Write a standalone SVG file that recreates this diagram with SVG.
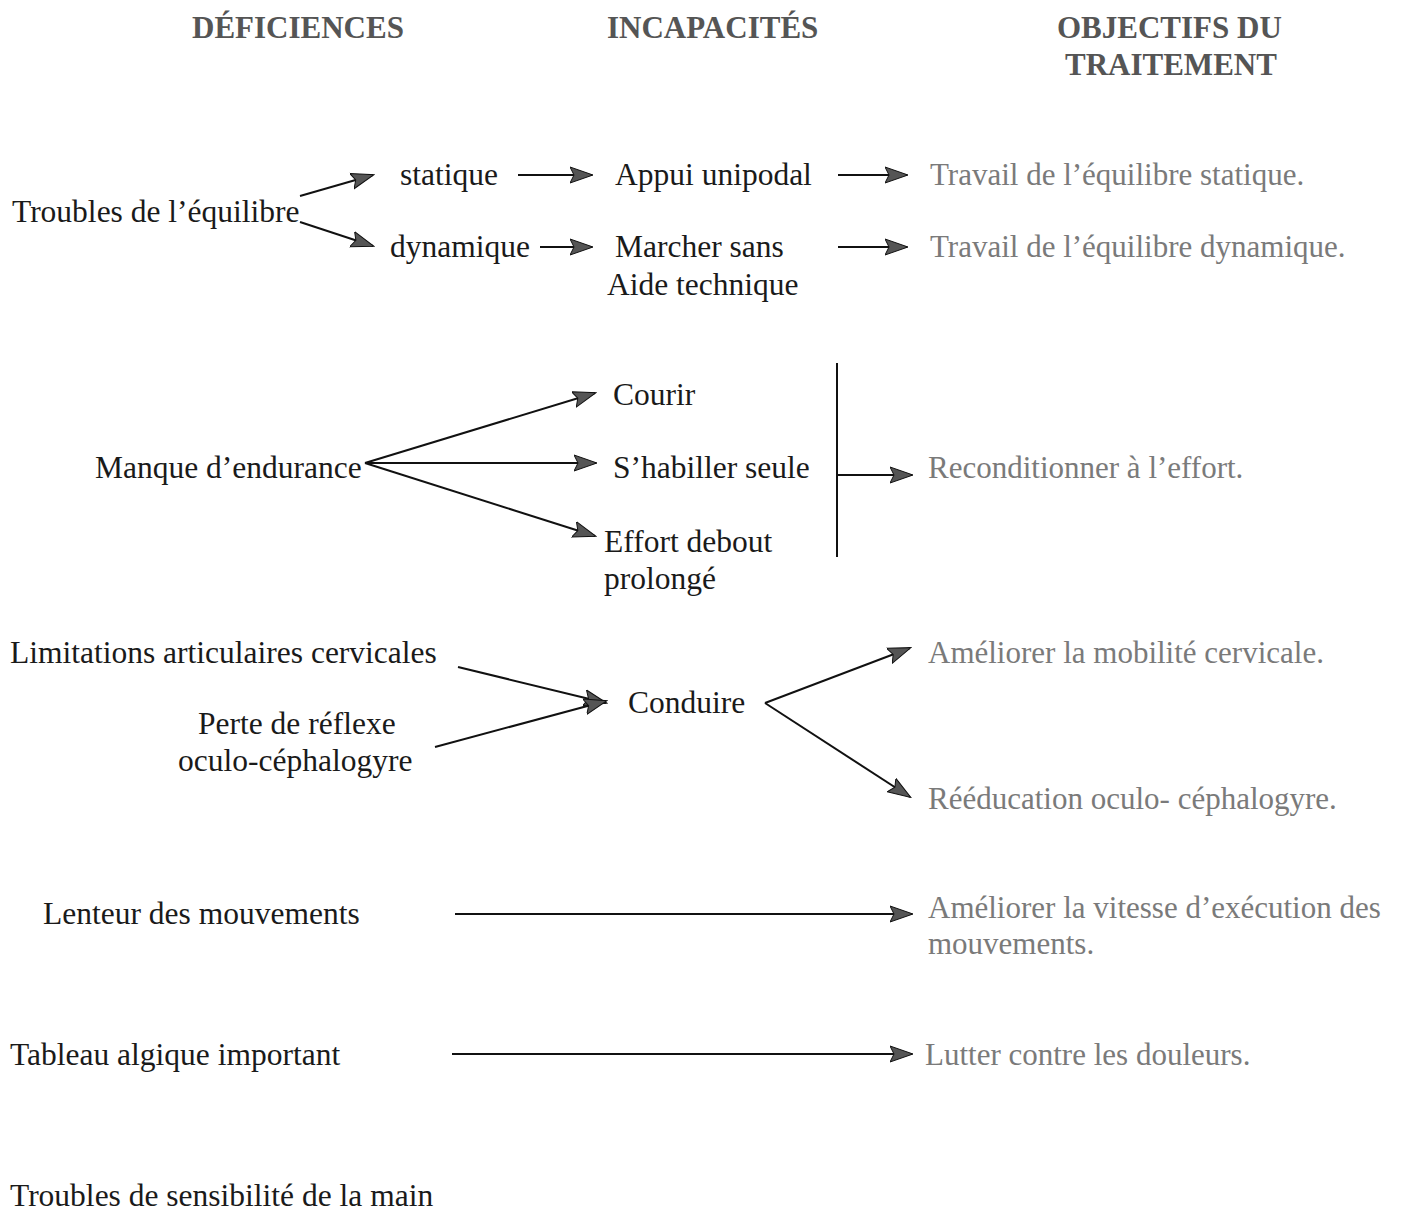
<svg xmlns="http://www.w3.org/2000/svg" width="1407" height="1214" viewBox="0 0 1407 1214">
<defs>
<style>
text{font-family:"Liberation Serif","DejaVu Serif",serif;font-size:31.5px;fill:#1a1a1a}
.h{font-weight:bold;fill:#555;font-size:31px}
.o{fill:#7a7a7a;font-size:31px}
.c line,.c path{stroke:#111;stroke-width:2;fill:none}
.a{marker-end:url(#ah)}
</style>
<marker id="ah" markerUnits="userSpaceOnUse" markerWidth="24" markerHeight="18" viewBox="0 0 24 18" refX="22" refY="9" orient="auto">
<path d="M0,1 L23,9 L0,17 L4,9 Z" fill="#555" stroke="#111" stroke-width="1"/>
</marker>
</defs>
<rect width="1407" height="1214" fill="#fff"/>
<g id="headers">
<text class="h" x="192" y="38">DÉFICIENCES</text>
<text class="h" x="607" y="38">INCAPACITÉS</text>
<text class="h" x="1057" y="38">OBJECTIFS DU</text>
<text class="h" x="1065" y="75">TRAITEMENT</text>
</g>
<g id="n-troubles-equilibre"><text x="12" y="222">Troubles de l’équilibre</text></g>
<g id="n-statique"><text x="400" y="185">statique</text></g>
<g id="n-dynamique"><text x="390" y="257">dynamique</text></g>
<g id="n-appui"><text x="615" y="185">Appui unipodal</text></g>
<g id="n-marcher"><text x="615" y="257">Marcher sans</text><text x="607" y="295">Aide technique</text></g>
<g id="n-travail-statique"><text class="o" x="930" y="185">Travail de l’équilibre statique.</text></g>
<g id="n-travail-dynamique"><text class="o" x="930" y="257">Travail de l’équilibre dynamique.</text></g>
<g id="n-manque"><text x="95" y="478">Manque d’endurance</text></g>
<g id="n-courir"><text x="613" y="405">Courir</text></g>
<g id="n-habiller"><text x="613" y="478">S’habiller seule</text></g>
<g id="n-effort"><text x="604" y="552">Effort debout</text><text x="604" y="589">prolongé</text></g>
<g id="n-reconditionner"><text class="o" x="928" y="478">Reconditionner à l’effort.</text></g>
<g id="n-limitations"><text x="10" y="663">Limitations articulaires cervicales</text></g>
<g id="n-perte"><text x="198" y="734">Perte de réflexe</text><text x="178" y="771">oculo-céphalogyre</text></g>
<g id="n-conduire"><text x="628" y="713">Conduire</text></g>
<g id="n-mobilite"><text class="o" x="928" y="663">Améliorer la mobilité cervicale.</text></g>
<g id="n-reeducation"><text class="o" x="928" y="809">Rééducation oculo- céphalogyre.</text></g>
<g id="n-lenteur"><text x="43" y="924">Lenteur des mouvements</text></g>
<g id="n-vitesse"><text class="o" x="928" y="918">Améliorer la vitesse d’exécution des</text><text class="o" x="928" y="954">mouvements.</text></g>
<g id="n-tableau"><text x="10" y="1065">Tableau algique important</text></g>
<g id="n-douleurs"><text class="o" x="925" y="1065">Lutter contre les douleurs.</text></g>
<g id="n-sensibilite"><text x="10" y="1206">Troubles de sensibilité de la main</text></g>
<g id="connectors" class="c">
<line class="a" x1="300" y1="196" x2="373" y2="175"/>
<line class="a" x1="300" y1="222" x2="373" y2="246"/>
<line class="a" x1="518" y1="175" x2="592" y2="175"/>
<line class="a" x1="540" y1="247" x2="592" y2="247"/>
<line class="a" x1="838" y1="175" x2="907" y2="175"/>
<line class="a" x1="838" y1="247" x2="907" y2="247"/>
<line class="a" x1="365" y1="463" x2="595" y2="393"/>
<line class="a" x1="365" y1="463" x2="596" y2="463"/>
<line class="a" x1="365" y1="463" x2="595" y2="536"/>
<line x1="837" y1="363" x2="837" y2="557"/>
<line class="a" x1="837" y1="475" x2="912" y2="475"/>
<line class="a" x1="458" y1="667" x2="606" y2="703"/>
<line class="a" x1="435" y1="747" x2="606" y2="701"/>
<line class="a" x1="765" y1="703" x2="910" y2="648"/>
<line class="a" x1="765" y1="703" x2="910" y2="797"/>
<line class="a" x1="455" y1="914" x2="912" y2="914"/>
<line class="a" x1="452" y1="1054" x2="912" y2="1054"/>
</g>
</svg>
